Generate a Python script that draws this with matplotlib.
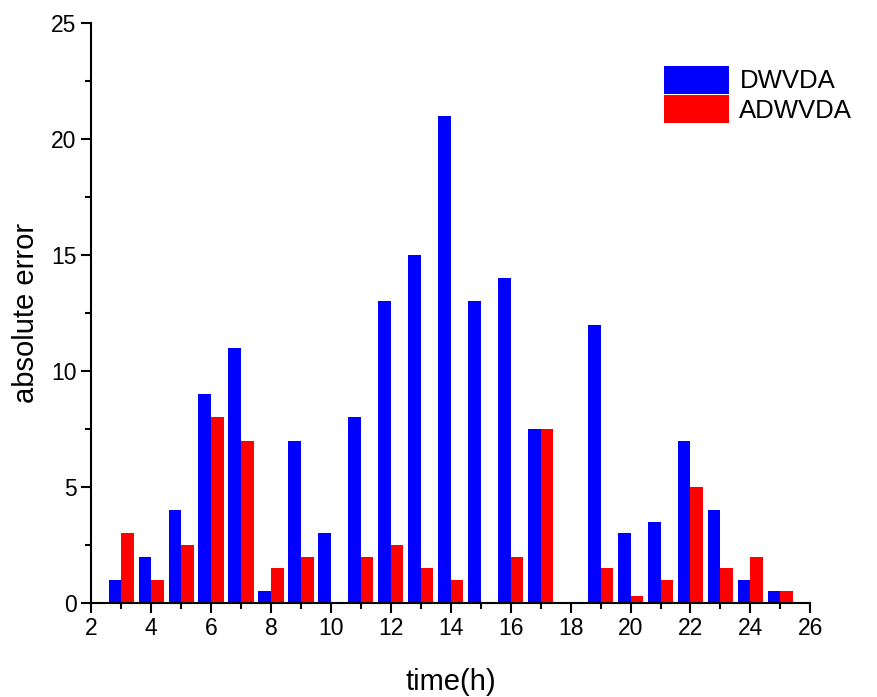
import numpy as np
import matplotlib
matplotlib.use("Agg")
import matplotlib.pyplot as plt
from matplotlib.ticker import MultipleLocator

plt.rcParams['font.family'] = ['Liberation Sans', 'DejaVu Sans']

# hours and absolute errors
hours = [3, 4, 5, 6, 7, 8, 9, 10, 11, 12, 13, 14, 15, 16, 17, 18, 19, 20, 21, 22, 23, 24, 25]
dwvda = [1, 2, 4, 9, 11, 0.5, 7, 3, 8, 13, 15, 21, 13, 14, 7.5, 0, 12, 3, 3.5, 7, 4, 1, 0.5]
adwvda = [3, 1, 2.5, 8, 7, 1.5, 2, 0, 2, 2.5, 1.5, 1, 0, 2, 7.5, 0, 1.5, 0.3, 1, 5, 1.5, 2, 0.5]

fig = plt.figure(figsize=(8.77, 6.97), dpi=100)
ax = fig.add_axes([0.104, 0.135, 0.82, 0.832])

x = np.array(hours)
w = 0.42
ax.bar(x - w / 2, dwvda, width=w, color='#0000ff', label='DWVDA')
ax.bar(x + w / 2, adwvda, width=w, color='#ff0000', label='ADWVDA')

ax.set_xlim(2, 26)
ax.set_ylim(0, 25)
ax.xaxis.set_major_locator(MultipleLocator(2))
ax.xaxis.set_minor_locator(MultipleLocator(1))
ax.yaxis.set_major_locator(MultipleLocator(5))
ax.yaxis.set_minor_locator(MultipleLocator(2.5))

ax.spines['top'].set_visible(False)
ax.spines['right'].set_visible(False)
for s in ['left', 'bottom']:
    ax.spines[s].set_linewidth(1.5)
ax.tick_params(which='major', direction='out', length=7, width=1.5, labelsize=16.5)
ax.tick_params(which='minor', direction='out', length=4, width=1.5)

ax.set_xlabel('time(h)', fontsize=21, labelpad=20)
ax.set_ylabel('absolute error', fontsize=21, labelpad=8)

ax.legend(loc='upper left', bbox_to_anchor=(0.742, 0.924), bbox_transform=fig.transFigure,
          frameon=False, fontsize=18.5, handlelength=2.55, handleheight=1.3,
          labelspacing=0.05, handletextpad=0.4, borderpad=0)

fig.savefig('out.png', dpi=100)
